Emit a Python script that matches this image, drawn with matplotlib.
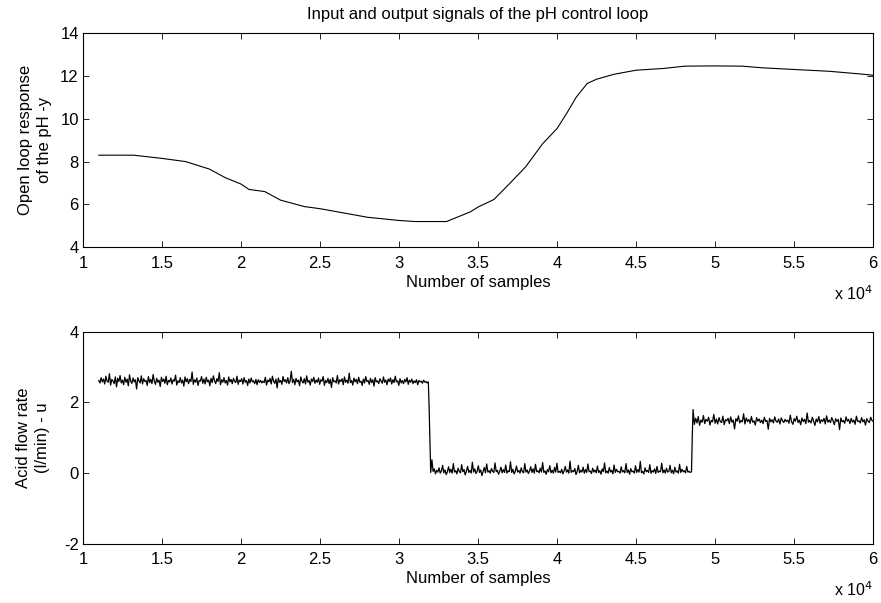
"""Input and output signals of the pH control loop (MATLAB-style two-panel figure)."""

import matplotlib

matplotlib.use("Agg")
import matplotlib.pyplot as plt  # noqa: E402
import numpy as np  # noqa: E402
from matplotlib.transforms import offset_copy  # noqa: E402

# ---- top panel: open loop pH response (samples, pH) ----
ph_samples = [11000, 13200, 15000, 16500, 18000, 19000, 20000, 20500, 21500, 22500,
              24000, 25000, 26500, 28000, 30000, 31000, 33000, 34500, 35000, 36000,
              37000, 38000, 39100, 40000, 40600, 41200, 41900, 42500, 43600, 45000,
              46700, 48100, 49800, 51700, 53000, 55100, 57200, 59100, 59800, 60000]
ph_values = [8.30, 8.30, 8.15, 8.00, 7.65, 7.25, 6.95, 6.70, 6.60, 6.20,
             5.90, 5.80, 5.60, 5.40, 5.25, 5.20, 5.20, 5.65, 5.88, 6.23,
             6.98, 7.75, 8.85, 9.55, 10.25, 11.00, 11.65, 11.85, 12.08, 12.27,
             12.35, 12.46, 12.47, 12.46, 12.38, 12.30, 12.22, 12.10, 12.05, 12.03]

# ---- bottom panel: acid flow rate, three noisy plateaus ----
flow_high = [
    2.62, 2.55, 2.70, 2.58, 2.66, 2.52, 2.74, 2.60, 2.57, 2.81, 2.49, 2.65, 2.61, 2.53, 2.72, 2.44, 2.68, 2.59, 2.76, 2.55,
    2.63, 2.50, 2.71, 2.57, 2.66, 2.47, 2.78, 2.60, 2.54, 2.69, 2.58, 2.64, 2.38, 2.70, 2.61, 2.55, 2.75, 2.52, 2.67, 2.59,
    2.62, 2.48, 2.73, 2.56, 2.65, 2.53, 2.79, 2.60, 2.51, 2.68, 2.57, 2.63, 2.45, 2.71, 2.59, 2.66, 2.54, 2.74, 2.50, 2.62,
    2.58, 2.69, 2.52, 2.64, 2.60, 2.77, 2.49, 2.61, 2.56, 2.70, 2.55, 2.63, 2.46, 2.72, 2.58, 2.67, 2.53, 2.65, 2.59, 2.86,
    2.51, 2.64, 2.57, 2.69, 2.48, 2.62, 2.60, 2.73, 2.54, 2.66, 2.52, 2.71, 2.58, 2.63, 2.47, 2.68, 2.56, 2.75, 2.61, 2.53,
    2.67, 2.59, 2.84, 2.50, 2.64, 2.57, 2.70, 2.55, 2.62, 2.49, 2.72, 2.58, 2.65, 2.53, 2.68, 2.60, 2.56, 2.74, 2.51, 2.63,
    2.59, 2.67, 2.52, 2.70, 2.57, 2.62, 2.48, 2.66, 2.55, 2.69, 2.58, 2.61, 2.53, 2.65, 2.50, 2.64, 2.57, 2.62, 2.55, 2.60,
    2.56, 2.71, 2.49, 2.63, 2.58, 2.68, 2.52, 2.74, 2.60, 2.54, 2.66, 2.41, 2.69, 2.57, 2.62, 2.51, 2.73, 2.59, 2.64, 2.55,
    2.70, 2.53, 2.61, 2.88, 2.56, 2.65, 2.50, 2.68, 2.58, 2.63, 2.47, 2.72, 2.60, 2.55, 2.67, 2.52, 2.75, 2.57, 2.62, 2.49,
    2.66, 2.59, 2.71, 2.54, 2.63, 2.57, 2.69, 2.51, 2.64, 2.60, 2.73, 2.48, 2.62, 2.56, 2.68, 2.53, 2.65, 2.42, 2.70, 2.58,
    2.61, 2.55, 2.76, 2.52, 2.64, 2.59, 2.67, 2.50, 2.72, 2.57, 2.63, 2.54, 2.83, 2.56, 2.62, 2.49, 2.69, 2.58, 2.65, 2.53,
    2.71, 2.57, 2.60, 2.48, 2.66, 2.55, 2.73, 2.59, 2.62, 2.51, 2.68, 2.56, 2.64, 2.46, 2.70, 2.58, 2.61, 2.53, 2.67, 2.60,
    2.54, 2.72, 2.57, 2.63, 2.50, 2.66, 2.59, 2.69, 2.52, 2.64, 2.56, 2.74, 2.58, 2.61, 2.48, 2.67, 2.55, 2.62, 2.53, 2.65,
    2.58, 2.70, 2.51, 2.63, 2.57, 2.66, 2.53, 2.61, 2.56, 2.64, 2.50, 2.62, 2.58, 2.60, 2.54, 2.63, 2.57, 2.59, 2.55, 2.58,
]
flow_low = [
    0.02, 0.38, 0.05, 0.12, -0.02, 0.08, 0.03, 0.15, 0.00, 0.06, 0.22, 0.01, 0.09, -0.04, 0.04, 0.18, 0.02, 0.11, 0.00, 0.27,
    0.03, 0.07, -0.02, 0.14, 0.05, 0.01, 0.24, 0.04, 0.10, -0.05, 0.06, 0.19, 0.02, 0.08, 0.00, 0.31, 0.03, 0.12, -0.01, 0.05,
    0.21, 0.02, 0.09, -0.07, 0.04, 0.16, 0.01, 0.26, 0.03, 0.07, 0.00, 0.13, 0.05, 0.02, 0.29, 0.04, 0.08, -0.03, 0.06, 0.17,
    0.01, 0.10, 0.02, 0.23, 0.00, 0.07, 0.04, 0.32, 0.02, 0.11, -0.02, 0.05, 0.20, 0.03, 0.08, 0.00, 0.15, 0.04, 0.01, 0.27,
    0.03, 0.09, -0.01, 0.06, 0.18, 0.02, 0.12, 0.00, 0.25, 0.04, 0.07, 0.01, 0.14, 0.03, 0.30, 0.02, 0.06, -0.03, 0.10, 0.04,
    0.21, 0.01, 0.08, 0.00, 0.16, 0.03, 0.28, 0.02, 0.05, 0.01, 0.11, -0.02, 0.06, 0.19, 0.03, 0.09, 0.00, 0.34, 0.02, 0.07,
    0.04, 0.13, -0.04, 0.05, 0.22, 0.01, 0.08, 0.03, 0.17, 0.00, 0.10, 0.02, 0.26, 0.04, 0.06, -0.01, 0.14, 0.03, 0.09, 0.01,
    0.20, 0.02, 0.07, -0.03, 0.12, 0.04, 0.29, 0.01, 0.06, 0.00, 0.16, 0.03, 0.08, -0.02, 0.23, 0.02, 0.11, 0.04, 0.05, 0.00,
    0.18, 0.03, 0.07, 0.01, 0.27, 0.02, 0.09, -0.03, 0.13, 0.04, 0.06, 0.00, 0.21, 0.02, 0.10, 0.03, 0.33, 0.01, 0.05, -0.02,
    0.15, 0.04, 0.08, 0.02, 0.24, 0.00, 0.07, 0.03, 0.12, -0.01, 0.19, 0.02, 0.06, 0.04, 0.28, 0.01, 0.09, 0.00, 0.14, 0.03,
    0.05, 0.22, 0.01, 0.08, -0.02, 0.17, 0.03, 0.06, 0.00, 0.25, 0.02, 0.11, 0.04, 0.07, 0.01, 0.19, 0.03, 0.05, 0.02, 0.04,
]
flow_mid = [
    1.80, 1.38, 1.55, 1.42, 1.60, 1.35, 1.50, 1.44, 1.63, 1.40, 1.52, 1.47, 1.58, 1.36, 1.49, 1.45, 1.66, 1.41, 1.53, 1.39,
    1.57, 1.46, 1.43, 1.61, 1.37, 1.51, 1.48, 1.55, 1.40, 1.59, 1.44, 1.50, 1.25, 1.54, 1.47, 1.62, 1.42, 1.49, 1.45, 1.68,
    1.39, 1.56, 1.46, 1.52, 1.41, 1.60, 1.44, 1.48, 1.36, 1.57, 1.47, 1.53, 1.43, 1.50, 1.40, 1.58, 1.46, 1.49, 1.24, 1.55,
    1.45, 1.51, 1.42, 1.59, 1.47, 1.44, 1.53, 1.39, 1.56, 1.48, 1.43, 1.52, 1.46, 1.50, 1.41, 1.64, 1.45, 1.38, 1.54, 1.47,
    1.61, 1.43, 1.50, 1.37, 1.56, 1.46, 1.52, 1.40, 1.70, 1.44, 1.49, 1.42, 1.58, 1.47, 1.35, 1.53, 1.45, 1.60, 1.41, 1.51,
    1.46, 1.55, 1.39, 1.62, 1.44, 1.50, 1.43, 1.57, 1.48, 1.37, 1.54, 1.46, 1.52, 1.23, 1.56, 1.45, 1.49, 1.41, 1.59, 1.47,
    1.52, 1.40, 1.55, 1.44, 1.50, 1.38, 1.61, 1.46, 1.48, 1.42, 1.57, 1.45, 1.51, 1.36, 1.54, 1.47, 1.43, 1.58, 1.49, 1.46,
]
# sample ranges of each plateau, and the single transition samples between them
plateau_ranges = [(11000, 31850), (32000, 48500), (48600, 60000)]
step_samples = [31900, 48550]
step_values = [1.85, 1.04]

x_ticks = [10000, 15000, 20000, 25000, 30000, 35000, 40000, 45000, 50000, 55000, 60000]
x_tick_labels = ["1", "1.5", "2", "2.5", "3", "3.5", "4", "4.5", "5", "5.5", "6"]

plt.rcParams.update({
    "font.family": ["Liberation Sans", "DejaVu Sans"],
    "font.size": 12,
    "axes.unicode_minus": False,
    "xtick.direction": "in",
    "ytick.direction": "in",
    "xtick.top": True,
    "ytick.right": True,
    "xtick.major.size": 4,
    "ytick.major.size": 4,
    "axes.linewidth": 0.8,
})

fig = plt.figure(figsize=(8.81, 6.03), dpi=100)
ax_top = fig.add_axes([0.0942, 0.590, 0.897, 0.355])
ax_bot = fig.add_axes([0.0942, 0.098, 0.897, 0.352])

ax_top.plot(ph_samples, ph_values, color="black", lw=0.8)
ax_top.set_ylim(4, 14)
ax_top.set_yticks([4, 6, 8, 10, 12, 14])
ax_top.set_ylabel("Open loop response\nof the pH -y", linespacing=1.3, labelpad=6)
ax_top.set_title("Input and output signals of the pH control loop", fontsize=12, pad=10)

# stitch plateaus and transitions into one trace
xs, ys = [], []
for i, (seg, (start, stop)) in enumerate(zip([flow_high, flow_low, flow_mid], plateau_ranges)):
    xs.extend(np.linspace(start, stop, len(seg)))
    ys.extend(seg)
    if i < len(step_samples):
        xs.append(step_samples[i])
        ys.append(step_values[i])
ax_bot.plot(xs, ys, color="black", lw=0.9)
ax_bot.set_ylim(-2, 4)
ax_bot.set_yticks([-2, 0, 2, 4])
ax_bot.set_ylabel("Acid flow rate\n(l/min) - u", linespacing=1.3, labelpad=10)

for ax in (ax_top, ax_bot):
    ax.set_xlim(10000, 60000)
    ax.set_xticks(x_ticks)
    ax.set_xticklabels(x_tick_labels)
    ax.set_xlabel("Number of samples", labelpad=3)
    ax.tick_params(axis="x", pad=6, width=0.6)
    ax.tick_params(axis="y", pad=3, width=0.6)
    # MATLAB-style exponent label under the right end of the x axis
    trans = offset_copy(ax.transAxes, fig=fig, x=0, y=-46, units="dots")
    ax.text(1.0, 0.0, r"x 10$^4$", transform=trans, ha="right", va="center", fontsize=11.5)

fig.savefig("out.png", dpi=100)
plt.close(fig)
